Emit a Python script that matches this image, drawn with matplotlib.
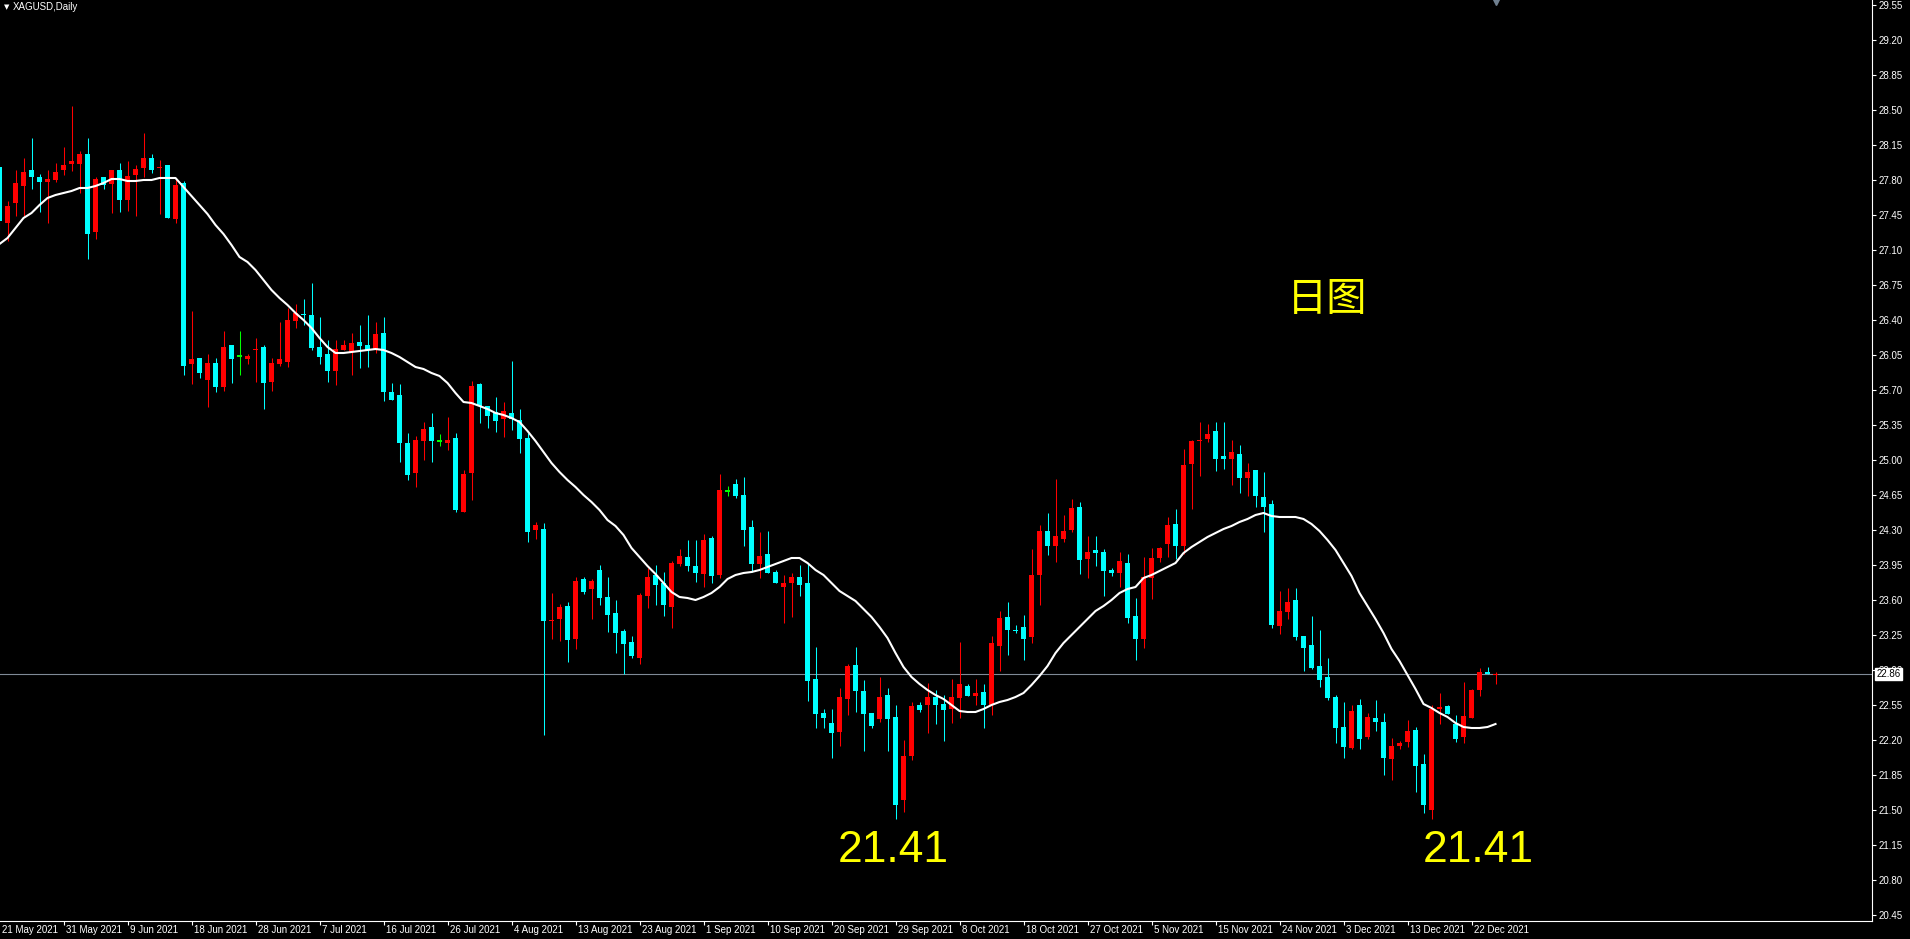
import numpy as np
import matplotlib.pyplot as plt

plt.rcParams['font.family'] = ['Liberation Sans', 'DejaVu Sans']

# daily XAGUSD candles (bar 0 = 21 May 2021)
opens = [27.93, 27.37, 27.57, 27.74, 27.90, 27.83, 27.78, 27.80, 27.90, 27.96,
         27.96, 28.06, 27.28, 27.83, 27.76, 27.90, 27.60, 27.85, 27.92, 28.02,
         27.92, 27.95, 27.41, 27.77, 25.96, 26.02, 25.80, 25.97, 25.73, 26.15,
         26.04, 26.01, 26.10, 26.13, 25.78, 25.96, 25.98, 26.39, 26.46, 26.45,
         26.13, 26.06, 25.89, 26.10, 26.08, 26.18, 26.15, 26.11, 26.27, 25.68,
         25.65, 25.17, 24.87, 25.19, 25.33, 25.19, 25.17, 25.22, 24.48, 24.87,
         25.76, 25.54, 25.48, 25.41, 25.47, 25.40, 25.22, 24.30, 24.31, 23.39,
         23.41, 23.54, 23.21, 23.81, 23.71, 23.90, 23.63, 23.47, 23.29, 23.18,
         23.02, 23.64, 23.85, 23.77, 23.53, 23.96, 24.03, 23.94, 23.86, 24.22,
         23.85, 24.69, 24.76, 24.65, 24.33, 23.96, 24.06, 23.88, 23.73, 23.77,
         23.83, 23.77, 22.81, 22.47, 22.37, 22.28, 22.61, 22.95, 22.69, 22.47,
         22.41, 22.65, 22.43, 21.60, 22.04, 22.55, 22.55, 22.63, 22.56, 22.51,
         22.62, 22.74, 22.64, 22.68, 22.55, 23.14, 23.43, 23.30, 23.33, 23.23,
         23.85, 24.29, 24.14, 24.21, 24.30, 24.53, 24.01, 24.10, 24.08, 23.90,
         23.87, 23.97, 23.44, 23.21, 23.82, 24.02, 24.16, 24.36, 24.14, 24.96,
         25.19, 25.21, 25.29, 25.04, 25.01, 25.06, 24.82, 24.90, 24.63, 24.56,
         23.34, 23.48, 23.60, 23.24, 23.15, 22.94, 22.83, 22.63, 22.33, 22.12,
         22.55, 22.23, 22.42, 22.38, 22.01, 22.14, 22.18, 22.30, 21.96, 21.50,
         22.51, 22.54, 22.36, 22.23, 22.42, 22.70, 22.88, 22.85]
highs = [28.00, 27.59, 27.90, 28.02, 28.22, 27.86, 27.90, 27.97, 28.13, 28.54,
         28.09, 28.22, 27.83, 27.83, 27.90, 27.97, 27.99, 27.95, 28.27, 28.06,
         28.00, 27.95, 27.81, 27.79, 26.49, 26.02, 26.06, 26.02, 26.29, 26.15,
         26.29, 26.06, 26.22, 26.15, 26.02, 26.38, 26.52, 26.56, 26.61, 26.77,
         26.43, 26.20, 26.20, 26.20, 26.27, 26.35, 26.45, 26.38, 26.43, 25.77,
         25.76, 25.27, 25.24, 25.38, 25.47, 25.26, 25.43, 25.27, 24.90, 25.79,
         25.77, 25.54, 25.63, 25.58, 25.99, 25.51, 25.27, 24.38, 24.37, 23.67,
         23.56, 23.58, 23.83, 23.83, 23.81, 23.95, 23.83, 23.60, 23.31, 23.24,
         23.67, 23.92, 23.95, 23.88, 23.99, 24.11, 24.20, 24.20, 24.26, 24.24,
         24.86, 24.74, 24.81, 24.83, 24.40, 24.28, 24.29, 23.90, 23.85, 23.87,
         23.95, 23.96, 23.13, 22.51, 22.51, 22.72, 22.96, 23.13, 22.80, 22.47,
         22.83, 22.72, 22.55, 22.20, 22.58, 22.58, 22.77, 22.70, 22.65, 22.81,
         23.18, 22.76, 22.81, 22.76, 23.24, 23.49, 23.58, 23.35, 23.45, 24.11,
         24.35, 24.47, 24.81, 24.45, 24.61, 24.58, 24.24, 24.24, 24.11, 23.92,
         24.08, 24.06, 23.62, 24.03, 24.12, 24.13, 24.43, 24.51, 25.11, 25.20,
         25.38, 25.36, 25.38, 25.38, 25.20, 25.15, 24.97, 24.90, 24.88, 24.60,
         23.69, 23.72, 23.72, 23.24, 23.44, 23.30, 23.02, 22.65, 22.58, 22.55,
         22.61, 22.47, 22.60, 22.47, 22.22, 22.19, 22.40, 22.33, 22.06, 22.55,
         22.67, 22.55, 22.45, 22.78, 22.71, 22.92, 22.93, 22.88]
lows = [27.30, 27.19, 27.44, 27.44, 27.71, 27.48, 27.37, 27.78, 27.85, 27.89,
        27.67, 27.01, 27.21, 27.71, 27.47, 27.48, 27.49, 27.44, 27.83, 27.87,
        27.46, 27.42, 27.37, 25.85, 25.76, 25.82, 25.53, 25.68, 25.69, 25.77,
        25.85, 25.96, 25.78, 25.51, 25.69, 25.94, 25.93, 26.32, 26.35, 26.10,
        25.96, 25.78, 25.75, 26.10, 25.85, 25.92, 25.93, 26.07, 25.59, 25.60,
        24.98, 24.80, 24.73, 25.00, 24.98, 25.14, 25.10, 24.48, 24.48, 24.60,
        25.37, 25.32, 25.28, 25.23, 25.30, 25.07, 24.18, 24.21, 22.25, 23.21,
        23.19, 22.98, 23.11, 23.66, 23.41, 23.55, 23.28, 23.07, 22.86, 23.02,
        22.96, 23.52, 23.55, 23.44, 23.32, 23.94, 23.89, 23.78, 23.73, 23.77,
        23.82, 24.64, 24.62, 24.14, 23.88, 23.82, 23.87, 23.77, 23.37, 23.43,
        23.64, 22.59, 22.32, 22.32, 22.02, 22.14, 22.45, 22.48, 22.09, 22.32,
        22.38, 22.09, 21.41, 21.48, 22.00, 22.48, 22.27, 22.36, 22.19, 22.37,
        22.42, 22.64, 22.55, 22.32, 22.45, 22.89, 23.05, 23.27, 23.00, 23.17,
        23.55, 24.05, 23.98, 24.18, 24.28, 23.86, 23.82, 23.94, 23.64, 23.84,
        23.73, 23.37, 23.00, 23.12, 23.61, 23.98, 24.03, 24.01, 24.06, 24.51,
        24.84, 25.18, 24.89, 24.91, 24.75, 24.67, 24.64, 24.53, 24.28, 23.32,
        23.26, 23.41, 23.20, 22.89, 22.91, 22.73, 22.60, 22.17, 22.02, 22.11,
        22.11, 22.21, 22.29, 21.85, 21.80, 22.11, 22.13, 21.68, 21.47, 21.41,
        22.36, 22.46, 22.18, 22.17, 22.42, 22.64, 22.86, 22.76]
closes = [27.39, 27.54, 27.77, 27.88, 27.83, 27.78, 27.81, 27.88, 27.95, 27.99,
          28.06, 27.26, 27.81, 27.75, 27.90, 27.60, 27.84, 27.91, 28.02, 27.90,
          27.93, 27.42, 27.75, 25.94, 26.01, 25.87, 25.97, 25.73, 26.13, 26.01,
          26.04, 26.04, 26.11, 25.77, 25.97, 26.01, 26.40, 26.47, 26.45, 26.12,
          26.03, 25.89, 26.11, 26.15, 26.17, 26.14, 26.10, 26.26, 25.68, 25.60,
          25.17, 24.85, 25.20, 25.31, 25.19, 25.19, 25.20, 24.50, 24.86, 25.74,
          25.54, 25.44, 25.39, 25.49, 25.41, 25.21, 24.28, 24.35, 23.39, 23.40,
          23.53, 23.20, 23.79, 23.68, 23.79, 23.62, 23.45, 23.27, 23.16, 23.04,
          23.65, 23.83, 23.75, 23.55, 23.97, 24.04, 23.94, 23.87, 24.20, 23.84,
          24.70, 24.69, 24.64, 24.30, 23.96, 24.04, 23.87, 23.77, 23.77, 23.83,
          23.75, 22.79, 22.46, 22.42, 22.27, 22.63, 22.94, 22.69, 22.46, 22.34,
          22.63, 22.41, 21.55, 22.04, 22.54, 22.50, 22.63, 22.55, 22.50, 22.63,
          22.76, 22.64, 22.67, 22.55, 23.17, 23.42, 23.30, 23.29, 23.21, 23.85,
          24.29, 24.14, 24.24, 24.29, 24.52, 24.00, 24.08, 24.07, 23.89, 23.87,
          23.99, 23.42, 23.21, 23.83, 24.02, 24.12, 24.35, 24.14, 24.95, 25.19,
          25.20, 25.26, 25.01, 25.01, 25.08, 24.82, 24.88, 24.64, 24.53, 23.35,
          23.49, 23.58, 23.23, 23.12, 22.92, 22.80, 22.62, 22.32, 22.13, 22.49,
          22.21, 22.43, 22.38, 22.02, 22.14, 22.17, 22.29, 21.94, 21.55, 22.51,
          22.53, 22.46, 22.21, 22.44, 22.70, 22.88, 22.86, 22.86]
# moving average line as drawn on the chart
ma = [27.16, 27.22, 27.32, 27.42, 27.47, 27.55, 27.62, 27.65, 27.67, 27.69,
      27.72, 27.72, 27.74, 27.77, 27.81, 27.81, 27.79, 27.79, 27.80, 27.80,
      27.82, 27.82, 27.82, 27.73, 27.64, 27.55, 27.46, 27.35, 27.26, 27.15,
      27.03, 26.98, 26.90, 26.80, 26.70, 26.62, 26.55, 26.47, 26.40, 26.32,
      26.22, 26.13, 26.07, 26.07, 26.08, 26.09, 26.10, 26.11, 26.10, 26.07,
      26.03, 25.98, 25.93, 25.91, 25.87, 25.84, 25.77, 25.67, 25.58, 25.57,
      25.54, 25.51, 25.47, 25.45, 25.42, 25.38, 25.29, 25.19, 25.08, 24.97,
      24.88, 24.80, 24.73, 24.65, 24.58, 24.50, 24.40, 24.34, 24.25, 24.12,
      24.03, 23.94, 23.86, 23.77, 23.68, 23.63, 23.62, 23.60, 23.63, 23.67,
      23.73, 23.81, 23.85, 23.87, 23.88, 23.90, 23.93, 23.96, 23.99, 24.02,
      24.02, 23.97, 23.90, 23.85, 23.77, 23.69, 23.64, 23.59, 23.51, 23.43,
      23.33, 23.22, 23.07, 22.93, 22.83, 22.76, 22.70, 22.65, 22.61, 22.55,
      22.49, 22.48, 22.48, 22.51, 22.55, 22.58, 22.60, 22.63, 22.67, 22.75,
      22.84, 22.94, 23.07, 23.17, 23.25, 23.33, 23.41, 23.49, 23.54, 23.60,
      23.67, 23.71, 23.73, 23.82, 23.85, 23.89, 23.93, 23.97, 24.07, 24.13,
      24.18, 24.23, 24.27, 24.31, 24.34, 24.38, 24.41, 24.45, 24.47, 24.44,
      24.43, 24.43, 24.43, 24.41, 24.36, 24.29, 24.20, 24.10, 23.97, 23.84,
      23.67, 23.54, 23.41, 23.27, 23.11, 22.99, 22.85, 22.71, 22.56, 22.52,
      22.47, 22.43, 22.37, 22.33, 22.32, 22.32, 22.33, 22.36]

price_ticks = [29.55, 29.20, 28.85, 28.50, 28.15, 27.80, 27.45, 27.10, 26.75,
               26.40, 26.05, 25.70, 25.35, 25.00, 24.65, 24.30, 23.95, 23.60,
               23.25, 22.90, 22.55, 22.20, 21.85, 21.50, 21.15, 20.80, 20.45]
date_labels = ['21 May 2021', '31 May 2021', '9 Jun 2021', '18 Jun 2021',
               '28 Jun 2021', '7 Jul 2021', '16 Jul 2021', '26 Jul 2021',
               '4 Aug 2021', '13 Aug 2021', '23 Aug 2021', '1 Sep 2021',
               '10 Sep 2021', '20 Sep 2021', '29 Sep 2021', '8 Oct 2021',
               '18 Oct 2021', '27 Oct 2021', '5 Nov 2021', '15 Nov 2021',
               '24 Nov 2021', '3 Dec 2021', '13 Dec 2021', '22 Dec 2021']
last_price = 22.86
low_price = 21.41

BULL = '#ff0000'
BEAR = '#00ffff'
DOJI = '#00ff00'

o = np.array(opens)
h = np.array(highs)
l = np.array(lows)
c = np.array(closes)
x = np.arange(len(o))
colors = np.where(c > o, BULL, np.where(c < o, BEAR, DOJI))

fig = plt.figure(figsize=(19.10, 9.39), dpi=100, facecolor='black')
ax = fig.add_axes([0, 18 / 939, 1872 / 1910, 921 / 939], facecolor='black')

ax.axhline(last_price, color='#7f8a96', lw=0.8, zorder=1)
ax.vlines(x, l, h, colors=colors, lw=0.75, zorder=2)
body = np.maximum(np.abs(c - o), 0.01)
bottom = np.where(c == o, o - 0.005, np.minimum(o, c))
ax.bar(x, body, bottom=bottom, width=0.625, color=colors, linewidth=0, zorder=3)
ax.plot(x, ma, color='white', lw=1.5, zorder=4)

ax.set_xlim(0.0625, 234.06)
ax.set_ylim(20.39, 29.60)

for s in ['top', 'left']:
    ax.spines[s].set_visible(False)
for s in ['right', 'bottom']:
    ax.spines[s].set_color('white')
    ax.spines[s].set_linewidth(0.8)

ax.yaxis.tick_right()
ax.set_yticks(price_ticks)
ax.set_yticklabels([f'{v:.2f}' for v in price_ticks])
ax.tick_params(axis='y', colors='white', labelsize=7, length=3, width=0.8, pad=2)

label_bars = np.arange(len(date_labels)) * 8
ax.set_xticks(label_bars[1:])
ax.set_xticklabels([])
ax.tick_params(axis='x', colors='white', length=3, width=0.8)
for b, lab in zip(label_bars, date_labels):
    ax.text(b + 0.25, -0.004, lab, transform=ax.get_xaxis_transform(),
            color='white', fontsize=7, ha='left', va='top', clip_on=False)

ax.annotate(f'{last_price:.2f}', xy=(1.0, last_price),
            xycoords=('axes fraction', 'data'), xytext=(3, 0),
            textcoords='offset points', ha='left', va='center',
            fontsize=7, color='black', zorder=10,
            bbox=dict(boxstyle='square,pad=0.15', fc='white', ec='white'))

fig.text(4 / 1910, 1 - 7 / 939, '\u25bc', color='white', fontsize=5,
         ha='left', va='center', family='DejaVu Sans')
fig.text(13 / 1910, 1 - 7 / 939, 'XAGUSD,Daily', color='white', fontsize=7,
         ha='left', va='center')
ax.plot([187], [29.585], marker='v', ms=4, color='#708090', clip_on=False)

ax.text(166.0, 26.60, '日图', color='yellow', fontsize=29,
        family=['Noto Sans CJK SC', 'DejaVu Sans'], ha='center', va='center')
for bx in [111.7, 184.8]:
    ax.text(bx, 21.10, f'{low_price:.2f}', color='yellow', fontsize=32,
            ha='center', va='center')

fig.savefig('out.png', dpi=100, facecolor='black')
